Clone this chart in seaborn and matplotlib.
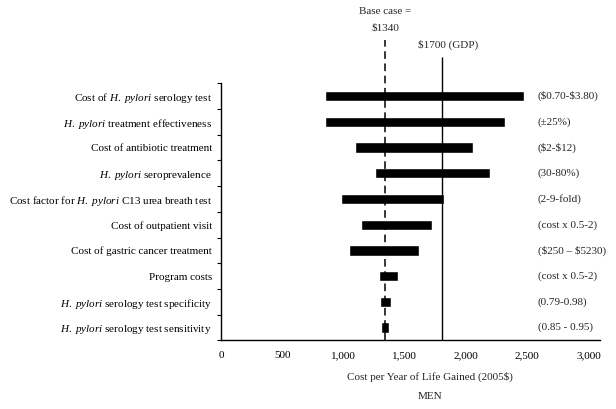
import numpy as np
import pandas as pd
import matplotlib
matplotlib.use("Agg")
import matplotlib.pyplot as plt
import seaborn as sns
from matplotlib.ticker import FuncFormatter, FixedLocator

# values (cost per year of life gained, 2005$)
params = [
    r"Cost of $\it{H.\ pylori}$ serology test",
    r"$\it{H.\ pylori}$ treatment effectiveness",
    "Cost of antibiotic treatment",
    r"$\it{H.\ pylori}$ seroprevalence",
    r"Cost factor for $\it{H.\ pylori}$ C13 urea breath test",
    "Cost of outpatient visit",
    "Cost of gastric cancer treatment",
    "Program costs",
    r"$\it{H.\ pylori}$ serology test specificity",
    r"$\it{H.\ pylori}$ serology test sensitivity",
]
low = [848, 848, 1096, 1260, 977, 1144, 1041, 1289, 1298, 1305]
high = [2472, 2317, 2054, 2199, 1822, 1726, 1616, 1447, 1392, 1375]
ranges = ["($0.70-$3.80)", "(±25%)", "($2-$12)", "(30-80%)", "(2-9-fold)",
          "(cost x 0.5-2)", "($250 – $5230)", "(cost x 0.5-2)", "(0.79-0.98)",
          "(0.85 - 0.95)"]
base_case = 1340
gdp_line = 1807
x_ticks = [0, 500, 1000, 1500, 2000, 2500, 3000]

df = pd.DataFrame({"param": params, "low": low, "high": high})
df["span"] = df["high"] - df["low"]

sns.set_theme(style="white")
plt.rcParams["font.family"] = ["Liberation Serif", "DejaVu Serif"]
plt.rcParams["mathtext.fontset"] = "custom"
plt.rcParams["mathtext.rm"] = "Liberation Serif"
plt.rcParams["mathtext.it"] = "Liberation Serif:italic"
fs = 8.0

fig = plt.figure(figsize=(6.16, 4.09), dpi=100)
ax = fig.add_axes([0.3588, 0.1675, 0.6153, 0.6288])

sns.barplot(data=df, x="span", y="param", left=df["low"].values, color="black",
            width=0.40, saturation=1, ax=ax, orient="h")

ax.set_xlim(0, 3095)
ax.set_ylim(len(params) - 0.5, -0.5)
ax.set_xlabel("")
ax.set_ylabel("")

for s in ["top", "right"]:
    ax.spines[s].set_visible(False)
for s in ["left", "bottom"]:
    ax.spines[s].set_color("black")
    ax.spines[s].set_linewidth(1.0)

ax.set_xticks(x_ticks)
ax.xaxis.set_major_formatter(FuncFormatter(lambda v, p: f"{int(v):,}"))
ax.tick_params(axis="x", which="major", direction="inout", length=3.5, width=0.8,
               colors="black", labelsize=fs, pad=6)
ax.tick_params(axis="y", which="major", length=0, labelsize=fs, pad=6.5,
               labelcolor="black")
ax.yaxis.set_minor_locator(FixedLocator(np.arange(-0.5, len(params), 1.0)))
ax.tick_params(axis="y", which="minor", direction="out", length=3, width=0.8,
               color="black", left=True)

xt = ax.get_xaxis_transform()
ax.vlines(base_case, 0, 1.168, transform=xt, colors="black", lw=1.1,
          linestyles=(0, (5, 3)), clip_on=False, zorder=3)
ax.vlines(gdp_line, 0, 1.103, transform=xt, colors="black", lw=1.0,
          clip_on=False, zorder=3)

ax.text(base_case, 1.278, "Base case =", transform=xt, ha="center", va="center",
        fontsize=fs, parse_math=False)
ax.text(base_case, 1.216, "$1340", transform=xt, ha="center", va="center",
        fontsize=fs, parse_math=False)
ax.text(1853, 1.149, "$1700 (GDP)", transform=xt, ha="center", va="center",
        fontsize=fs, parse_math=False)

for i, r in enumerate(ranges):
    ax.text(2588, i, r, ha="left", va="center", fontsize=fs, parse_math=False,
            clip_on=False)

fig.text(0.698, 0.078, "Cost per Year of Life Gained (2005$)", ha="center",
         va="center", fontsize=fs, parse_math=False)
fig.text(0.698, 0.030, "MEN", ha="center", va="center", fontsize=fs,
         parse_math=False)

fig.savefig("out.png", dpi=100, facecolor="white")
